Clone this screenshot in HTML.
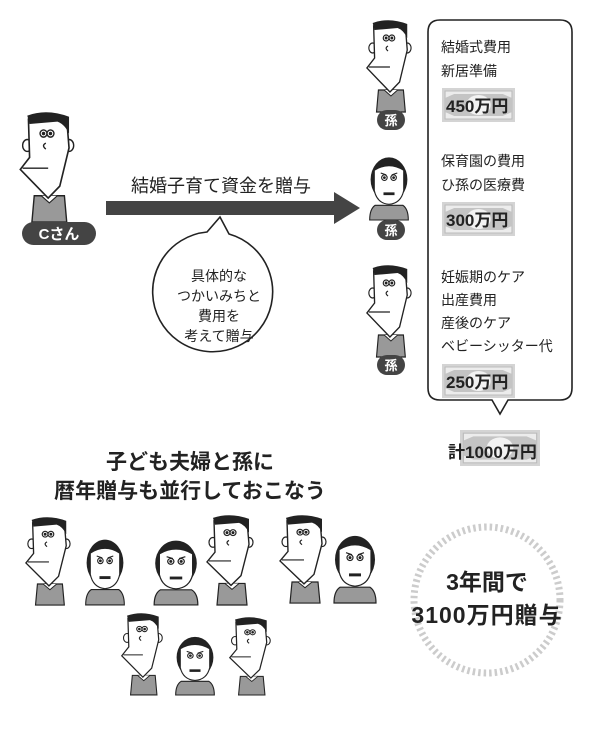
<!DOCTYPE html>
<html><head><meta charset="utf-8"><style>
html,body{margin:0;padding:0;background:#fff;}
svg{display:block;}
text{font-family:"Liberation Sans","Noto Sans CJK JP",sans-serif;fill:#222;}
</style></head><body>
<svg width="600" height="732" viewBox="0 0 600 732" xmlns="http://www.w3.org/2000/svg">
<defs>
<g id="man">
  <path d="M14 70 L12 92 L42 92 L40 70 Z" fill="#999" stroke="#222" stroke-width="1.2"/>
  <path d="M20 70 L27 76 L34 70" fill="#fff" stroke="#222" stroke-width="1"/>
  <ellipse cx="8" cy="28" rx="4" ry="5" fill="#fff" stroke="#222" stroke-width="1.2"/>
  <ellipse cx="44" cy="28" rx="4" ry="5" fill="#fff" stroke="#222" stroke-width="1.2"/>
  <path d="M9 6 L42 6 L44 30 L36 62 L26 72 L2 48 L10 38 Z" fill="#fff" stroke="#222" stroke-width="1.4"/>
  <path d="M8 3 Q25 -3 44 4 L44 18 Q40 10 34 8 L10 10 Z" fill="#222"/>
  <circle cx="22" cy="18" r="3" fill="#fff" stroke="#222" stroke-width="1.2"/><circle cx="22" cy="18" r="1.5" fill="#222"/>
  <circle cx="28" cy="18" r="3" fill="#fff" stroke="#222" stroke-width="1.2"/><circle cx="28" cy="18" r="1.5" fill="#222"/>
  <path d="M24 26 Q20 28 24 31" fill="none" stroke="#222" stroke-width="1.2"/>
  <path d="M4 47 L26 47" stroke="#222" stroke-width="1.2"/>
</g>
<g id="woman">
  <path d="M10 60 Q4 64 4 76 L46 76 Q46 64 40 60 Z" fill="#999" stroke="#222" stroke-width="1.2"/>
  <ellipse cx="25" cy="32" rx="20" ry="24" fill="#222"/>
  <path d="M9 22 Q25 12 41 22 L41 44 Q38 58 25 59 Q12 58 9 44 Z" fill="#fff" stroke="#222" stroke-width="1.2"/>
  <circle cx="20" cy="30" r="3" fill="#fff" stroke="#222" stroke-width="1.2"/><circle cx="20" cy="30" r="1.5" fill="#222"/>
  <circle cx="30" cy="30" r="3" fill="#fff" stroke="#222" stroke-width="1.2"/><circle cx="30" cy="30" r="1.5" fill="#222"/>
  <path d="M16 25 L22 27 M34 25 L28 27" stroke="#222" stroke-width="1.2"/>
  <rect x="19" y="46" width="12" height="3" fill="#222"/>
</g>
<g id="bill">
  <rect x="0" y="0" width="72" height="34" fill="#d4d4d4"/>
  <rect x="3" y="3" width="66" height="28" fill="#ececec" stroke="#bbb"/>
  <path d="M3 10 L12 6 L60 6 L69 10 L69 24 L60 28 L12 28 L3 24 Z" fill="#c4c4c4"/>
  <ellipse cx="36" cy="17" rx="12" ry="10" fill="#f2f2f2"/>
</g>
</defs>

<!-- C-san -->
<use href="#man" transform="translate(18,112) scale(1.16,1.196)"/>
<rect x="22" y="222" width="74" height="23" rx="11.5" fill="#444"/>
<text x="59" y="239" font-size="15" font-weight="bold" text-anchor="middle" style="fill:#fff">Cさん</text>

<!-- arrow -->
<rect x="106" y="201" width="230" height="14" fill="#444"/>
<path d="M334 192 L360 208 L334 224 Z" fill="#444"/>
<text x="221" y="192" font-size="18" text-anchor="middle">結婚子育て資金を贈与</text>

<!-- speech bubble -->
<path d="M207 232 L220 217 L229 234 A60 60 0 1 1 207 232 Z" fill="#fff" stroke="#222" stroke-width="1.6"/>
<g font-size="14" text-anchor="middle">
<text x="219" y="281">具体的な</text>
<text x="219" y="301">つかいみちと</text>
<text x="219" y="321">費用を</text>
<text x="219" y="341">考えて贈与</text>
</g>

<!-- grandchildren -->
<use href="#man" transform="translate(365,20) scale(0.96,1)"/>
<rect x="377" y="110" width="28" height="20" rx="10" fill="#444"/>
<text x="391" y="125" font-size="13" font-weight="bold" text-anchor="middle" style="fill:#fff">孫</text>
<use href="#woman" transform="translate(366,150) scale(0.92,0.921)"/>
<rect x="377" y="220" width="28" height="20" rx="10" fill="#444"/>
<text x="391" y="235" font-size="13" font-weight="bold" text-anchor="middle" style="fill:#fff">孫</text>
<use href="#man" transform="translate(365,265) scale(0.96,1)"/>
<rect x="377" y="355" width="28" height="20" rx="10" fill="#444"/>
<text x="391" y="370" font-size="13" font-weight="bold" text-anchor="middle" style="fill:#fff">孫</text>

<!-- callout box -->
<path d="M440 20 L560 20 Q572 20 572 32 L572 388 Q572 400 560 400 L508 400 L500 414 L492 400 L440 400 Q428 400 428 388 L428 32 Q428 20 440 20 Z" fill="#fff" stroke="#222" stroke-width="1.6"/>
<g font-size="14">
<text x="441" y="52">結婚式費用</text>
<text x="441" y="76">新居準備</text>
<text x="441" y="166">保育園の費用</text>
<text x="441" y="190">ひ孫の医療費</text>
<text x="441" y="282">妊娠期のケア</text>
<text x="441" y="305">出産費用</text>
<text x="441" y="328">産後のケア</text>
<text x="441" y="351">ベビーシッター代</text>
</g>
<use href="#bill" transform="translate(442,88) scale(1.014,1)"/>
<text x="446" y="112" font-size="17" font-weight="bold">450万円</text>
<use href="#bill" transform="translate(442,202) scale(1.014,1)"/>
<text x="446" y="226" font-size="17" font-weight="bold">300万円</text>
<use href="#bill" transform="translate(442,364) scale(1.014,1)"/>
<text x="446" y="388" font-size="17" font-weight="bold">250万円</text>

<use href="#bill" transform="translate(460,430) scale(1.111,1.059)"/>
<text x="448" y="458" font-size="17" font-weight="bold">計1000万円</text>

<!-- title -->
<text x="190" y="469" font-size="21" font-weight="bold" text-anchor="middle">子ども夫婦と孫に</text>
<text x="190" y="498" font-size="21" font-weight="bold" text-anchor="middle">暦年贈与も並行しておこなう</text>

<!-- family -->
<use href="#man" transform="translate(24,517) scale(0.96,0.957)"/>
<use href="#woman" transform="translate(82,532) scale(0.92,0.96)"/>
<use href="#woman" transform="translate(150,533) scale(1.04,0.947)"/>
<use href="#man" transform="translate(205,515) scale(1,0.978)"/>
<use href="#man" transform="translate(278,515) scale(1,0.957)"/>
<use href="#woman" transform="translate(330,528) scale(1,0.987)"/>
<use href="#man" transform="translate(120,613) scale(0.88,0.891)"/>
<use href="#woman" transform="translate(172,630) scale(0.92,0.855)"/>
<use href="#man" transform="translate(228,617) scale(0.88,0.848)"/>

<!-- circle -->
<circle cx="487" cy="600" r="73" fill="none" stroke="#ccc" stroke-width="7" stroke-dasharray="2.5 3"/>
<text x="487" y="590" font-size="23" font-weight="bold" text-anchor="middle">3年間で</text>
<text x="487" y="623" font-size="23" font-weight="bold" text-anchor="middle" letter-spacing="1">3100万円贈与</text>
</svg>
</body></html>
